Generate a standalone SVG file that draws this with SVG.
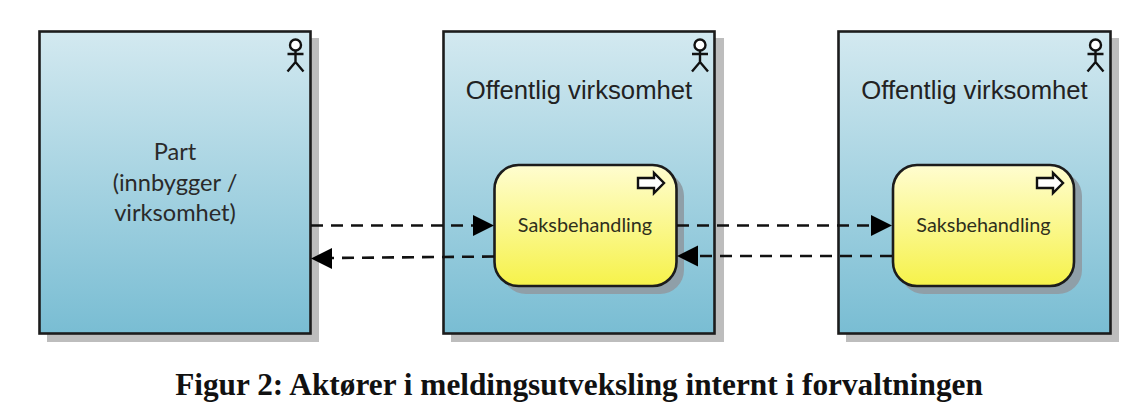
<svg xmlns="http://www.w3.org/2000/svg" width="1136" height="409" viewBox="0 0 1136 409">
<style>
.box{fill:url(#blue);stroke:#1c1c1c;stroke-width:2.6}
.shb{fill:#bdbdbd}
.proc{fill:url(#yellow);stroke:#1c1c1c;stroke-width:2.6}
.shp{fill:#8f9fa8}
.act{fill:none;stroke:#111;stroke-width:2.400}
.head{fill:#fff;stroke:#111;stroke-width:2.400}
.conn{fill:none;stroke:#111;stroke-width:2.6;stroke-dasharray:12 8}
.ah{fill:#000}
.arch{font-family:"Liberation Sans",Arial,sans-serif;font-size:25.700px;fill:#222;text-anchor:middle}
.part{font-family:Lato,"Open Sans",sans-serif;font-size:23.600px;fill:#2a2a2a;text-anchor:middle}
.lab{font-family:Lato,"Open Sans",sans-serif;font-size:19.800px;fill:#2f2f1c;text-anchor:middle}
.cap{font-family:"Liberation Serif","Times New Roman",serif;font-size:31.300px;font-weight:bold;fill:#111;text-anchor:middle}
</style>
<defs>
<linearGradient id="blue" x1="0" y1="0" x2="0" y2="1"><stop offset="0" stop-color="#d3e9f0"/><stop offset="1" stop-color="#79bdd3"/></linearGradient>
<linearGradient id="yellow" x1="0" y1="0" x2="0" y2="1"><stop offset="0" stop-color="#fffdd0"/><stop offset="1" stop-color="#f6f24a"/></linearGradient>
<g id="actor"><circle cx="0" cy="-14" r="5.500" class="head"/><path class="act" d="M0-8.500V3M-8-5H8M-8 12.500 0 3 8 12.500"/></g>
<g id="arrow"><path d="M-15-5H1V-10L11 0 1 10V5H-15Z" fill="#fff" stroke="#111" stroke-width="2.400"/></g>
</defs>
<g id="node-part">
<rect class="shb" x="47" y="38" width="272" height="304"/>
<rect class="box" x="39.500" y="31.500" width="271" height="302"/>
<use href="#actor" x="295.500" y="59"/>
<text class="part" x="175" y="160">Part</text>
<text class="part" x="175" y="191">(innbygger /</text>
<text class="part" x="175" y="221">virksomhet)</text>
</g>
<g id="node-off1">
<rect class="shb" x="451" y="38" width="273" height="304"/>
<rect class="box" x="443.500" y="31.500" width="271" height="302"/>
<use href="#actor" x="700" y="59"/>
<text class="arch" x="579" y="99">Offentlig virksomhet</text>
</g>
<g id="node-off2">
<rect class="shb" x="846" y="38" width="273" height="304"/>
<rect class="box" x="838.500" y="31.500" width="272" height="302"/>
<use href="#actor" x="1095.500" y="59"/>
<text class="arch" x="974.500" y="99">Offentlig virksomhet</text>
</g>
<g id="node-proc1">
<rect class="shp" x="502" y="172" width="182" height="122" rx="24"/>
<rect class="proc" x="494.500" y="165" width="182" height="121" rx="24"/>
<use href="#arrow" x="653" y="183"/>
<text class="lab" x="585" y="232">Saksbehandling</text>
</g>
<g id="node-proc2">
<rect class="shp" x="900" y="172" width="182" height="122" rx="24"/>
<rect class="proc" x="893" y="165" width="181" height="121" rx="24"/>
<use href="#arrow" x="1052" y="183"/>
<text class="lab" x="983.500" y="232">Saksbehandling</text>
</g>
<g id="connectors">
<path class="conn" d="M311 225.500H474"/><path class="ah" d="M473 215V236L494 225.500Z"/>
<path class="conn" d="M494 256.500 331 258"/><path class="ah" d="M332 248V269L311 258.500Z"/>
<path class="conn" d="M677 225.500H872"/><path class="ah" d="M871 215V236L892 225.500Z"/>
<path class="conn" d="M892 256H697"/><path class="ah" d="M698 245.500V266.500L677 256Z"/>
</g>
<text class="cap" x="579" y="395">Figur 2: Aktører i meldingsutveksling internt i forvaltningen</text>
</svg>
